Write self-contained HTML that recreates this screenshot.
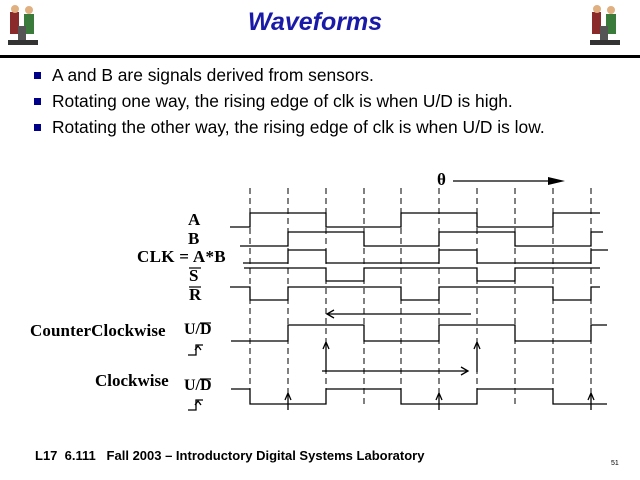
<!DOCTYPE html>
<html><head><style>
body{margin:0;width:640px;height:480px;background:#fff;position:relative;overflow:hidden;font-family:"Liberation Sans",sans-serif}
.t{position:absolute;white-space:nowrap}
</style></head><body>
<div class="t" style="left:0;width:630px;top:8px;text-align:center;font-size:25px;font-weight:bold;font-style:italic;color:#1a1aa8">Waveforms</div>
<div style="position:absolute;left:0;top:55px;width:640px;height:3px;background:#000"></div>
<svg width="640" height="480" style="position:absolute;left:0;top:0">
<g id="ic">
<rect x="10" y="12" width="9" height="22" fill="#8b2a2a"/><circle cx="15" cy="9" r="4" fill="#e0b080"/>
<rect x="24" y="14" width="10" height="20" fill="#3a7a3a"/><circle cx="29" cy="10" r="4" fill="#e0b080"/>
<rect x="18" y="26" width="8" height="18" fill="#555"/><rect x="8" y="40" width="30" height="5" fill="#333"/>
</g>
<use href="#ic" x="582" y="0"/>
<g fill="#000088"><rect x="34" y="72" width="7" height="7"/><rect x="34" y="98" width="7" height="7"/><rect x="34" y="124" width="7" height="7"/></g>
<g stroke="#000" stroke-width="1" stroke-dasharray="6,4">
<line x1="250" y1="188" x2="250" y2="408"/><line x1="288" y1="188" x2="288" y2="408"/><line x1="326" y1="188" x2="326" y2="408"/><line x1="364" y1="188" x2="364" y2="408"/><line x1="401" y1="188" x2="401" y2="408"/><line x1="439" y1="188" x2="439" y2="408"/><line x1="477" y1="188" x2="477" y2="408"/><line x1="515" y1="188" x2="515" y2="408"/><line x1="553" y1="188" x2="553" y2="408"/><line x1="591" y1="188" x2="591" y2="408"/>
</g>
<g stroke="#000" stroke-width="1.3" fill="none">
<polyline points="230,227 250,227 250,213 326,213 326,227 401,227 401,213 477,213 477,227 553,227 553,213 600,213"/>
<polyline points="240,246 288,246 288,232 364,232 364,246 439,246 439,232 515,232 515,246 591,246 591,232 603,232"/>
<polyline points="243,263 288,263 288,250 326,250 326,263 439,263 439,250 477,250 477,263 591,263 591,250 608,250"/>
<polyline points="244,268 326,268 326,281 364,281 364,268 477,268 477,281 515,281 515,268 600,268"/>
<polyline points="230,287 250,287 250,300 288,300 288,287 401,287 401,300 439,300 439,287 553,287 553,300 591,300 591,287 600,287"/>
<polyline points="231,341 288,341 288,325 364,325 364,341 439,341 439,325 515,325 515,341 591,341 591,325 607,325"/>
<polyline points="231,389 250,389 250,404 326,404 326,389 401,389 401,404 477,404 477,389 553,389 553,404 607,404"/>
<line x1="453" y1="181" x2="555" y2="181"/>
<line x1="327" y1="314" x2="471" y2="314"/><polyline points="334,310 327,314 334,318"/>
<line x1="322" y1="371" x2="468" y2="371"/><polyline points="461,367 468,371 461,375"/>
<g>
<line x1="326" y1="343" x2="326" y2="372"/><polyline points="323,349 326,342 329,349"/>
<line x1="477" y1="343" x2="477" y2="372"/><polyline points="474,349 477,342 480,349"/>
<line x1="288" y1="394" x2="288" y2="410"/><polyline points="285,400 288,393 291,400"/>
<line x1="439" y1="394" x2="439" y2="410"/><polyline points="436,400 439,393 442,400"/>
<line x1="591" y1="394" x2="591" y2="410"/><polyline points="588,400 591,393 594,400"/>
</g>
<polyline points="188,355 196,355 196,345 203,345"/><polyline points="195,350 198,346 201,350"/>
<polyline points="188,410 196,410 196,400 203,400"/><polyline points="195,405 198,401 201,405"/>
</g>
<polygon points="548,177 565,181 548,185" fill="#000"/>
<g stroke="#000" stroke-width="1.2"><line x1="189" y1="268" x2="201" y2="268"/><line x1="189" y1="287" x2="201" y2="287"/><line x1="200" y1="323" x2="211" y2="323"/><line x1="200" y1="379" x2="211" y2="379"/></g>
</svg>
<div class="t" style="left:52px;top:65px;font-size:17.4px">A and B are signals derived from sensors.</div>
<div class="t" style="left:52px;top:91px;font-size:17.4px">Rotating one way, the rising edge of clk is when U/D is high.</div>
<div class="t" style="left:52px;top:117px;font-size:17.4px">Rotating the other way, the rising edge of clk is when U/D is low.</div>
<div style="font-family:'Liberation Serif',serif;font-weight:bold;font-size:17px">
<div class="t" style="left:437px;top:170px">θ</div>
<div class="t" style="left:188px;top:210px">A</div>
<div class="t" style="left:188px;top:229px">B</div>
<div class="t" style="left:137px;top:247px;letter-spacing:0.3px">CLK = A*B</div>
<div class="t" style="left:189px;top:266px">S</div>
<div class="t" style="left:189px;top:285px">R</div>
<div class="t" style="left:30px;top:321px;letter-spacing:0.1px">CounterClockwise</div>
<div class="t" style="left:184px;top:321px;font-size:16px">U/D</div>
<div class="t" style="left:95px;top:371px">Clockwise</div>
<div class="t" style="left:184px;top:377px;font-size:16px">U/D</div>
</div>
<div class="t" style="left:35px;top:448px;font-size:13px;font-weight:bold">L17&nbsp; 6.111&nbsp;&nbsp; Fall 2003 – Introductory Digital Systems Laboratory</div>
<div class="t" style="left:611px;top:460px;font-size:7px">51</div>
</body></html>
